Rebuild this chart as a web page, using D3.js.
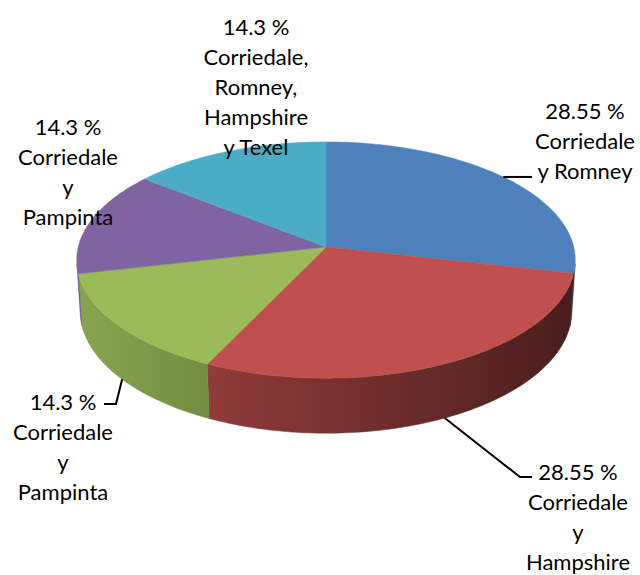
<!DOCTYPE html>
<html>
  <head>
    <meta charset="UTF-8" />
    <script src="https://d3js.org/d3.v7.min.js"></script>
    <style>
      body { margin: 0; background: #fff; }
      text { font-family: Lato, sans-serif; font-size: 22px; fill: #000; }
    </style>
  </head>
  <body>
    <div id="chart"></div>
    <script>
      // datos
      const razas = [
        ["28.55 %", "Corriedale", "y Romney"],
        ["28.55 %", "Corriedale", "y", "Hampshire"],
        ["14.3 %", "Corriedale", "y", "Pampinta"],
        ["14.3 %", "Corriedale", "y", "Pampinta"],
        ["14.3 %", "Corriedale,", "Romney,", "Hampshire", "y Texel"]
      ];
      const valores = [28.55, 28.55, 14.3, 14.3, 14.3];
      const colores = ["#4F81BD", "#C0504D", "#9BBB59", "#8064A2", "#4BACC6"];

      const w = 640, h = 575;

      // vista 3D con perspectiva
      const cx = 326, cy = 247;
      const tilt = 28.1 * Math.PI / 180;
      const dist = 8.0, foco = 1982, alto = 0.236;
      const st = Math.sin(tilt), ct = Math.cos(tilt);

      function proj(a, Y) {
        const X = Math.sin(a), Z = Math.cos(a);
        const yp = Y * ct + Z * st;
        const zp = -Y * st + Z * ct;
        return [cx + foco * X / (dist + zp), cy - foco * yp / (dist + zp)];
      }

      const svg = d3.select("#chart").append("svg").attr("width", w).attr("height", h);
      const defs = svg.append("defs");

      const pie = d3.pie().sort(null).value(d => d)(valores);

      function arcPts(a0, a1, Y) {
        const n = Math.max(2, Math.ceil((a1 - a0) / 0.02));
        const pts = [];
        for (let i = 0; i <= n; i++) pts.push(proj(a0 + (a1 - a0) * i / n, Y));
        return pts;
      }

      // parte visible del lado
      const aVis = Math.acos(-1 / (dist * ct));
      const xL = proj(3 * Math.PI / 2, 0)[0], xR = proj(Math.PI / 2, 0)[0];
      const shade = d3.scaleLinear().domain([xL, xR]).range([0.88, 0.38]);

      pie.forEach(function (d, i) {
        const g = defs.append("linearGradient")
          .attr("id", "side" + i)
          .attr("gradientUnits", "userSpaceOnUse")
          .attr("x1", xL).attr("x2", xR).attr("y1", 0).attr("y2", 0);
        g.append("stop").attr("offset", 0)
          .attr("stop-color", d3.interpolateRgb(colores[i], "#000")(1 - shade(xL)));
        g.append("stop").attr("offset", 1)
          .attr("stop-color", d3.interpolateRgb(colores[i], "#000")(1 - shade(xR)));
      });

      const sides = svg.append("g");
      pie.forEach(function (d, i) {
        const a0 = Math.max(d.startAngle, aVis);
        const a1 = Math.min(d.endAngle, 2 * Math.PI - aVis);
        if (a1 <= a0) return;
        const top = arcPts(a0, a1, 0);
        const bot = arcPts(a0, a1, -alto).reverse();
        sides.append("path")
          .attr("d", d3.line()(top.concat(bot)) + "Z")
          .attr("fill", "url(#side" + i + ")")
          .attr("stroke", "url(#side" + i + ")")
          .attr("stroke-width", 0.5);
      });

      // caras superiores
      const tops = svg.append("g");
      pie.forEach(function (d, i) {
        const pts = [[cx, cy]].concat(arcPts(d.startAngle, d.endAngle, 0));
        tops.append("path")
          .attr("d", d3.line()(pts) + "Z")
          .attr("fill", colores[i])
          .attr("stroke", colores[i])
          .attr("stroke-width", 0.5);
      });

      // etiquetas
      const labelPos = [[585, 111], [578, 472], [63, 402], [68, 127], [256, 27]];
      const lineH = 30;
      const labels = svg.append("g");
      razas.forEach(function (lines, i) {
        const t = labels.append("text")
          .attr("text-anchor", "middle")
          .attr("x", labelPos[i][0])
          .attr("y", labelPos[i][1]);
        lines.forEach(function (s, j) {
          t.append("tspan")
            .attr("x", labelPos[i][0])
            .attr("y", labelPos[i][1] + j * lineH)
            .attr("dy", "0.35em")
            .text(s);
        });
      });

      // lineas guia
      const rad = Math.PI / 180;
      const pB = proj(50 * rad, 0), pR = proj(154 * rad, -alto), pG = proj(231 * rad, -alto);
      const guias = [
        [pB, [532, pB[1]]],
        [pR, [520, 477], [532, 477]],
        [pG, [116, 404], [104, 404]]
      ];
      labels.selectAll("path.guia")
        .data(guias)
        .enter()
        .append("path")
        .attr("class", "guia")
        .attr("d", d => d3.line()(d))
        .attr("fill", "none")
        .attr("stroke", "#000")
        .attr("stroke-width", 2);
    </script>
  </body>
</html>
